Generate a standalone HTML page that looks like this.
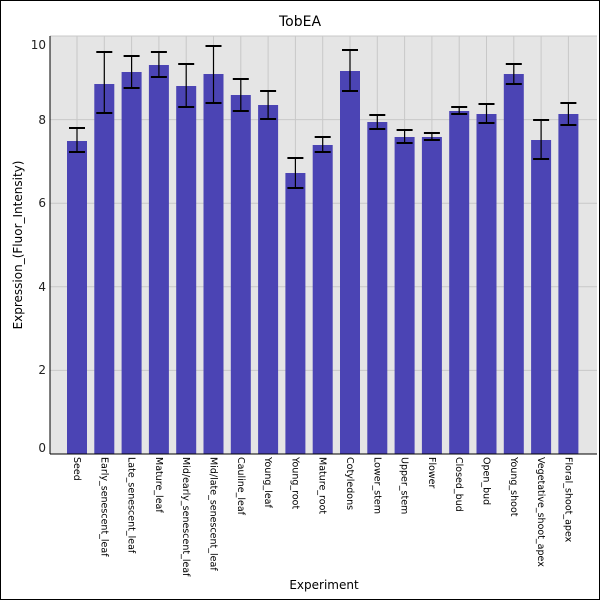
<!DOCTYPE html>
<html><head><style>body{margin:0;background:#fff}svg{display:block;font-family:"DejaVu Sans","Liberation Sans",sans-serif}</style></head>
<body>
<svg width="600" height="600" viewBox="0 0 600 600" xmlns="http://www.w3.org/2000/svg">
<rect x="0.5" y="0.5" width="599" height="599" fill="#fff" stroke="#000"/>
<text x="300" y="26" font-size="14" text-anchor="middle">TobEA</text>
<rect x="50" y="36" width="547" height="418" fill="#e5e5e5"/>
<g id="grid" stroke="#c8c8c8" stroke-width="1"></g>
<g id="bars"></g>
<line x1="50" y1="36" x2="50" y2="454" stroke="#000"/>
<line x1="50" y1="454" x2="597" y2="454" stroke="#000"/>
<g id="yl" font-size="12" text-anchor="end" fill="#222"></g>
<g id="xl" font-size="9.5"></g>
<text x="324" y="589" font-size="12" text-anchor="middle">Experiment</text>
<text transform="translate(22,245) rotate(-90)" font-size="12" text-anchor="middle">Expression_(Fluor_Intensity)</text>
</svg>
<script>
const ns="http://www.w3.org/2000/svg";
const names=["Seed","Early_senescent_leaf","Late_senescent_leaf","Mature_leaf","Mid/early_senescent_leaf","Mid/late_senescent_leaf","Cauline_leaf","Young_leaf","Young_root","Mature_root","Cotyledons","Lower_stem","Upper_stem","Flower","Closed_bud","Open_bud","Young_shoot","Vegetative_shoot_apex","Floral_shoot_apex"];
const tops=[141,84,72,65,86,74,95,105,173,145,71,122,137,137,111,114,74,140,114];
const err=[[128,152],[52,113],[56,88],[52,77],[64,107],[46,103],[79,111],[91,119],[158,188],[137,152],[50,91],[115,129],[130,143],[133,140],[107,114],[104,123],[64,84],[120,159],[103,125]];
function el(t,a,p,txt){const e=document.createElementNS(ns,t);for(const k in a)e.setAttribute(k,a[k]);if(txt)e.textContent=txt;document.getElementById(p).appendChild(e);return e;}
const lab={0:448,2:370,4:287,6:203,8:120,10:45};
for(let v=0;v<=10;v+=2){const y=454-v*41.8;el("line",{x1:50,x2:597,y1:y,y2:y},"grid");el("text",{x:46,y:lab[v]+4},"yl",String(v));}
names.forEach((n,i)=>{const cx=77+i*27.3;
el("line",{x1:cx,x2:cx,y1:36,y2:454},"grid");
el("rect",{x:cx-10,y:tops[i],width:20,height:454-tops[i],fill:"#4b44b4"},"bars");
const [a,b]=err[i];
el("line",{x1:cx,x2:cx,y1:a,y2:b,stroke:"#000","stroke-width":1.2},"bars");
el("line",{x1:cx-8,x2:cx+8,y1:a,y2:a,stroke:"#000","stroke-width":2},"bars");
el("line",{x1:cx-8,x2:cx+8,y1:b,y2:b,stroke:"#000","stroke-width":2},"bars");
el("text",{transform:`translate(${cx-3},457) rotate(90)`},"xl",n);
});
</script>
</body></html>
